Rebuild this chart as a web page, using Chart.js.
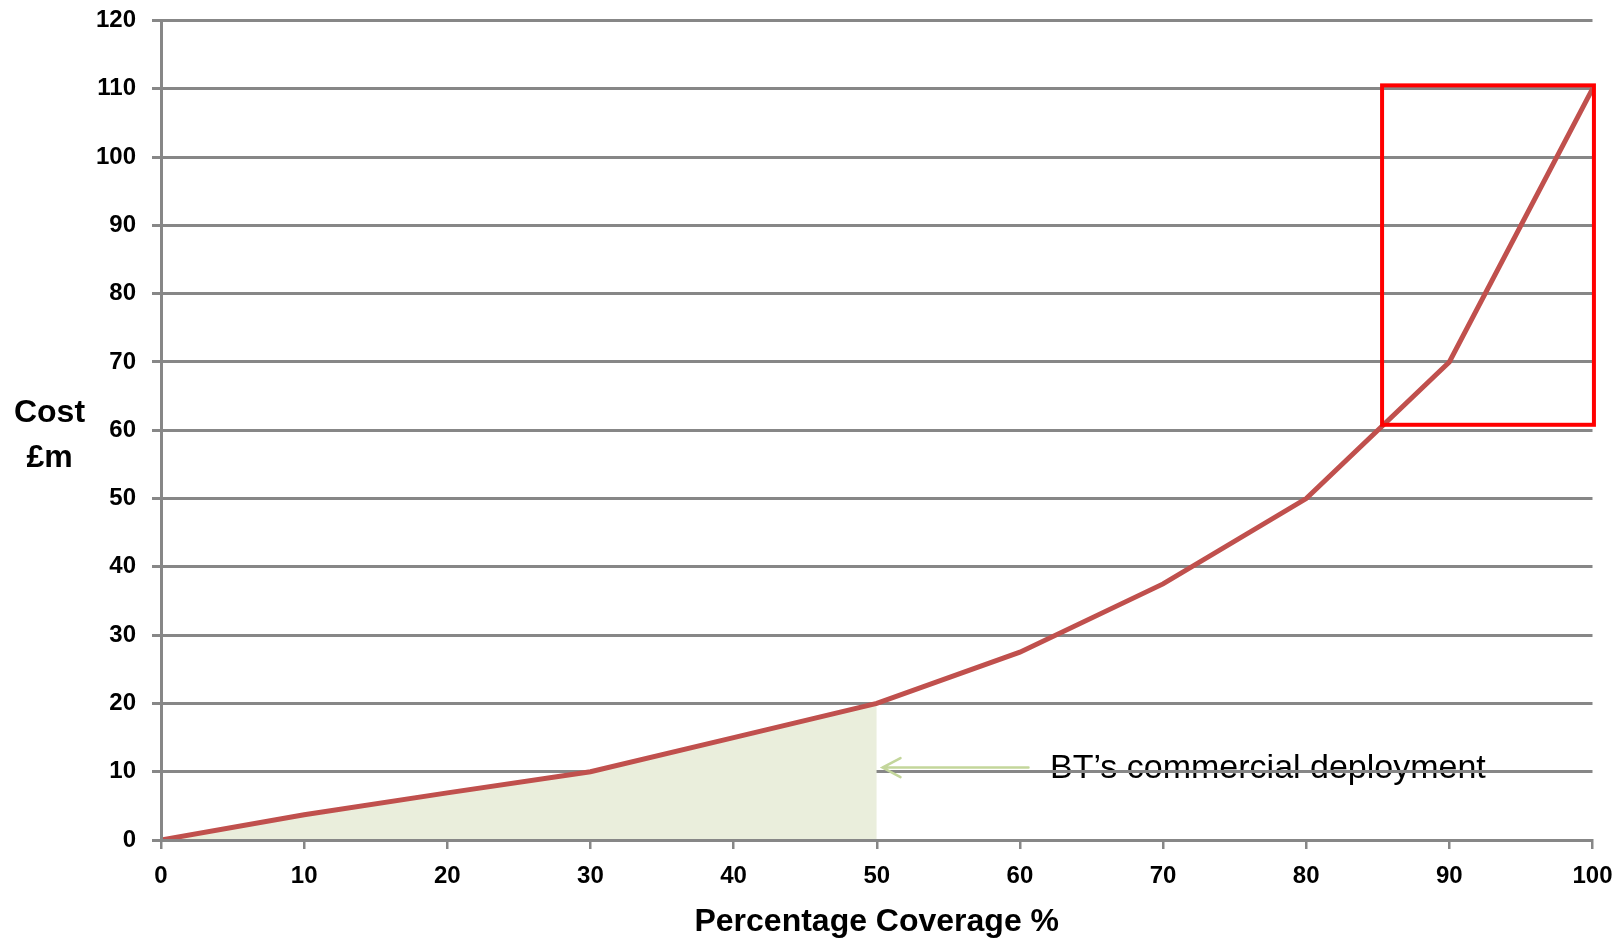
<!DOCTYPE html>
<html>
<head>
<meta charset="utf-8">
<script src="https://cdn.jsdelivr.net/npm/chart.js@4/dist/chart.umd.min.js"></script>
<style>
  html, body { margin: 0; padding: 0; background: #ffffff; }
  #wrap { width: 1624px; height: 943px; position: relative; }
</style>
</head>
<body>
<div id="wrap"><canvas id="chart" width="1624" height="943"></canvas></div>
<script>
// Network coverage (%) against cumulative cost (£m)
const coverage = [0, 10, 20, 30, 40, 50, 60, 70, 80, 90, 100];
const cost     = [0, 3.7, 6.9, 10, 15, 20, 27.5, 37.5, 50, 70, 110];

// Coverage reached by the commercial roll-out (shaded area)
const commercialLimit = 50;

// Axis ranges and ticks
const xTicks = [0, 10, 20, 30, 40, 50, 60, 70, 80, 90, 100];
const yTicks = [0, 10, 20, 30, 40, 50, 60, 70, 80, 90, 100, 110, 120];

// Annotation text
const calloutText = 'BT\u2019s commercial deployment';
const xTitle = 'Percentage Coverage %';
const yTitle = ['Cost', '\u00a3m'];

// Highlighted final-coverage region, in axis units: [xFrom, xTo, yTop, yBottom]
const finalStretch = [85.3, 100.1, 110.5, 60.8];
// Callout arrow, in axis units: tail and head
const arrowTail = [60.6, 10.6];
const arrowHead = [50.4, 10.6];
const calloutAnchor = [62.1, 9.1];

const linePoints = coverage.map((c, i) => ({ x: c, y: cost[i] }));
const shadedPoints = linePoints.filter(p => p.x <= commercialLimit);

const GRID = '#878787';
const TICK_FONT = { family: 'Liberation Sans, Arial, sans-serif', size: 24, weight: 'bold' };

// Callout text sits underneath the gridlines
const calloutTextPlugin = {
  id: 'calloutText',
  beforeDraw(chart) {
    const { ctx, scales: { x, y } } = chart;
    ctx.save();
    ctx.fillStyle = '#000000';
    ctx.font = '34px "Liberation Sans", Arial, sans-serif';
    ctx.textAlign = 'left';
    ctx.textBaseline = 'alphabetic';
    ctx.fillText(calloutText, x.getPixelForValue(calloutAnchor[0]), y.getPixelForValue(calloutAnchor[1]));
    ctx.restore();
  }
};

// Arrow, highlight box and the horizontal y-axis title
const overlayPlugin = {
  id: 'overlay',
  afterDatasetsDraw(chart) {
    const { ctx, scales: { x, y } } = chart;
    ctx.save();
    // arrow
    const tx = x.getPixelForValue(arrowTail[0]), ty = y.getPixelForValue(arrowTail[1]);
    const hx = x.getPixelForValue(arrowHead[0]), hy = y.getPixelForValue(arrowHead[1]);
    ctx.strokeStyle = '#C3D69B';
    ctx.lineWidth = 2.5;
    ctx.lineCap = 'round';
    ctx.beginPath();
    ctx.moveTo(tx, ty);
    ctx.lineTo(hx, hy);
    ctx.moveTo(hx + 18, hy - 9.5);
    ctx.lineTo(hx, hy);
    ctx.lineTo(hx + 18, hy + 9.5);
    ctx.stroke();

    // highlight rectangle
    const bx0 = x.getPixelForValue(finalStretch[0]);
    const bx1 = x.getPixelForValue(finalStretch[1]);
    const by0 = y.getPixelForValue(finalStretch[2]);
    const by1 = y.getPixelForValue(finalStretch[3]);
    ctx.strokeStyle = '#FF0000';
    ctx.lineWidth = 4;
    ctx.lineCap = 'butt';
    ctx.strokeRect(bx0, by0, bx1 - bx0, by1 - by0);
    ctx.restore();
  },
  afterDraw(chart) {
    const { ctx } = chart;
    ctx.save();
    ctx.fillStyle = '#000000';
    ctx.font = 'bold 32px "Liberation Sans", Arial, sans-serif';
    ctx.textAlign = 'center';
    ctx.textBaseline = 'alphabetic';
    ctx.fillText(yTitle[0], 49.5, 422);
    ctx.fillText(yTitle[1], 49.5, 467);
    ctx.restore();
  }
};

new Chart(document.getElementById('chart'), {
  type: 'line',
  data: {
    datasets: [
      {
        label: 'Cost',
        data: linePoints,
        borderColor: '#C0504D',
        borderWidth: 5,
        pointRadius: 0,
        tension: 0,
        fill: false
      },
      {
        label: 'Commercial deployment',
        data: shadedPoints,
        borderWidth: 0,
        borderColor: 'rgba(0,0,0,0)',
        backgroundColor: '#EAEEDC',
        pointRadius: 0,
        tension: 0,
        fill: 'origin'
      }
    ]
  },
  options: {
    responsive: false,
    devicePixelRatio: 1,
    animation: false,
    layout: { padding: { left: 0, top: 20.5, right: 31.5, bottom: 0 } },
    plugins: {
      legend: { display: false },
      tooltip: { enabled: false },
      title: { display: false }
    },
    scales: {
      x: {
        type: 'linear',
        min: xTicks[0],
        max: xTicks[xTicks.length - 1],
        afterFit(scale) {
          scale.height = 103;
          scale.paddingLeft = 0;
          scale.paddingRight = 0;
        },
        afterBuildTicks(scale) { scale.ticks = xTicks.map(v => ({ value: v })); },
        grid: {
          drawOnChartArea: false,
          drawTicks: true,
          tickLength: 9,
          color: GRID,
          lineWidth: 2.5
        },
        border: { display: true, color: GRID, width: 3, z: 1 },
        ticks: {
          color: '#000000',
          font: TICK_FONT,
          padding: 13,
          maxRotation: 0,
          autoSkip: false
        },
        title: {
          display: true,
          text: xTitle,
          color: '#000000',
          font: { family: 'Liberation Sans, Arial, sans-serif', size: 32, weight: 'bold' },
          padding: { top: 0, bottom: 2 }
        }
      },
      y: {
        type: 'linear',
        min: yTicks[0],
        max: yTicks[yTicks.length - 1],
        afterFit(scale) {
          scale.width = 161;
          scale.paddingTop = 0;
          scale.paddingBottom = 0;
        },
        afterBuildTicks(scale) { scale.ticks = yTicks.map(v => ({ value: v })); },
        grid: {
          drawTicks: true,
          tickLength: 9,
          color: GRID,
          lineWidth: 3
        },
        border: { display: true, color: GRID, width: 3, z: 1 },
        ticks: {
          color: '#000000',
          font: TICK_FONT,
          padding: 16,
          autoSkip: false
        }
      }
    }
  },
  plugins: [calloutTextPlugin, overlayPlugin]
});
</script>
</body>
</html>
